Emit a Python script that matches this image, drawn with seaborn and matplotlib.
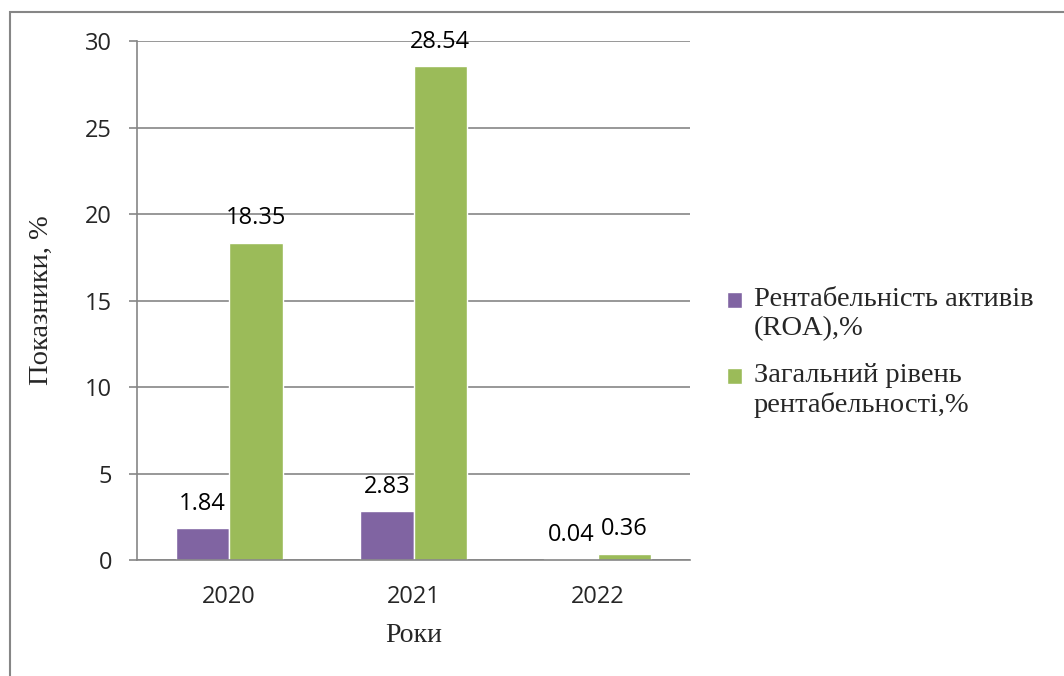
import matplotlib
matplotlib.use("Agg")
import matplotlib.pyplot as plt
import seaborn as sns
import pandas as pd
from matplotlib.patches import Rectangle
from matplotlib.legend_handler import HandlerPatch

# Data
years = ["2020", "2021", "2022"]
roa = [1.84, 2.83, 0.04]
total_profitability = [18.35, 28.54, 0.36]
series_names = ["Рентабельність активів\n(ROA),%", "Загальний рівень\nрентабельності,%"]
y_ticks = [0, 5, 10, 15, 20, 25, 30]

df = pd.DataFrame({
    "Рік": years * 2,
    "Значення": roa + total_profitability,
    "Показник": [series_names[0]] * len(years) + [series_names[1]] * len(years),
})

sns.set_theme(style="white")
plt.rcParams["font.family"] = ["Open Sans", "DejaVu Sans"]

grid_color = "#868686"
palette = ["#8064A2", "#9BBB59"]
num_size = 17

fig = plt.figure(figsize=(10.64, 6.76), dpi=100)
ax = fig.add_axes([0.1288, 0.1716, 0.5197, 0.7677])

sns.barplot(data=df, x="Рік", y="Значення", hue="Показник", palette=palette,
            width=0.58, saturation=1, ax=ax, legend=True)

for container in ax.containers:
    ax.bar_label(container, fmt="%.2f", padding=9, fontsize=num_size,
                 color="black", family=["Open Sans", "DejaVu Sans"])

ax.set_ylim(0, 30)
ax.set_xlim(-0.5, 2.5)
ax.set_yticks(y_ticks)
ax.set_yticklabels([str(t) for t in y_ticks], fontsize=num_size)
ax.yaxis.grid(True, color=grid_color, linewidth=1.2)
ax.set_axisbelow(True)

ax.set_xticks(range(len(years)))
ax.set_xticklabels(years, fontsize=num_size)
ax.set_xticks([-0.5, 0.5, 1.5, 2.5], minor=True)
ax.tick_params(axis="x", which="major", length=0, pad=18)
ax.tick_params(axis="x", which="minor", length=6, width=1.2, color=grid_color, direction="out")
ax.tick_params(axis="y", length=6, width=1.2, color=grid_color, direction="out", pad=12, left=True)

for side in ["top", "right"]:
    ax.spines[side].set_visible(False)
for side in ["left", "bottom"]:
    ax.spines[side].set_color(grid_color)
    ax.spines[side].set_linewidth(1.2)

serif = ["Liberation Serif", "DejaVu Serif"]
ax.set_xlabel("Роки", fontsize=20, family=serif, labelpad=10)
ax.set_ylabel("Показники, %", fontsize=20.5, family=serif, labelpad=22)


# Legend markers sit beside the first line of each two-line label
def top_aligned_square(legend, orig_handle, xdescent, ydescent, width, height, fontsize):
    side = 0.55 * fontsize
    return Rectangle((-xdescent, -ydescent + height / 2 + 0.2 * fontsize), side, side)


handles, labels = ax.get_legend_handles_labels()
ax.legend(handles, labels, loc="center left", bbox_to_anchor=(1.02, 0.40),
          frameon=False, prop={"family": serif, "size": 20.5},
          handlelength=0.6, handleheight=0.6, handletextpad=0.35,
          labelspacing=0.75,
          handler_map={h: HandlerPatch(patch_func=top_aligned_square) for h in handles})

# Outer frame of the chart area
fig.patches.append(Rectangle((10 / 1064, -0.05), 1.2, 1 - 12 / 676 + 0.05,
                             transform=fig.transFigure, fill=False,
                             edgecolor=grid_color, linewidth=1.5))

fig.savefig("out.png", dpi=100, facecolor="white")
